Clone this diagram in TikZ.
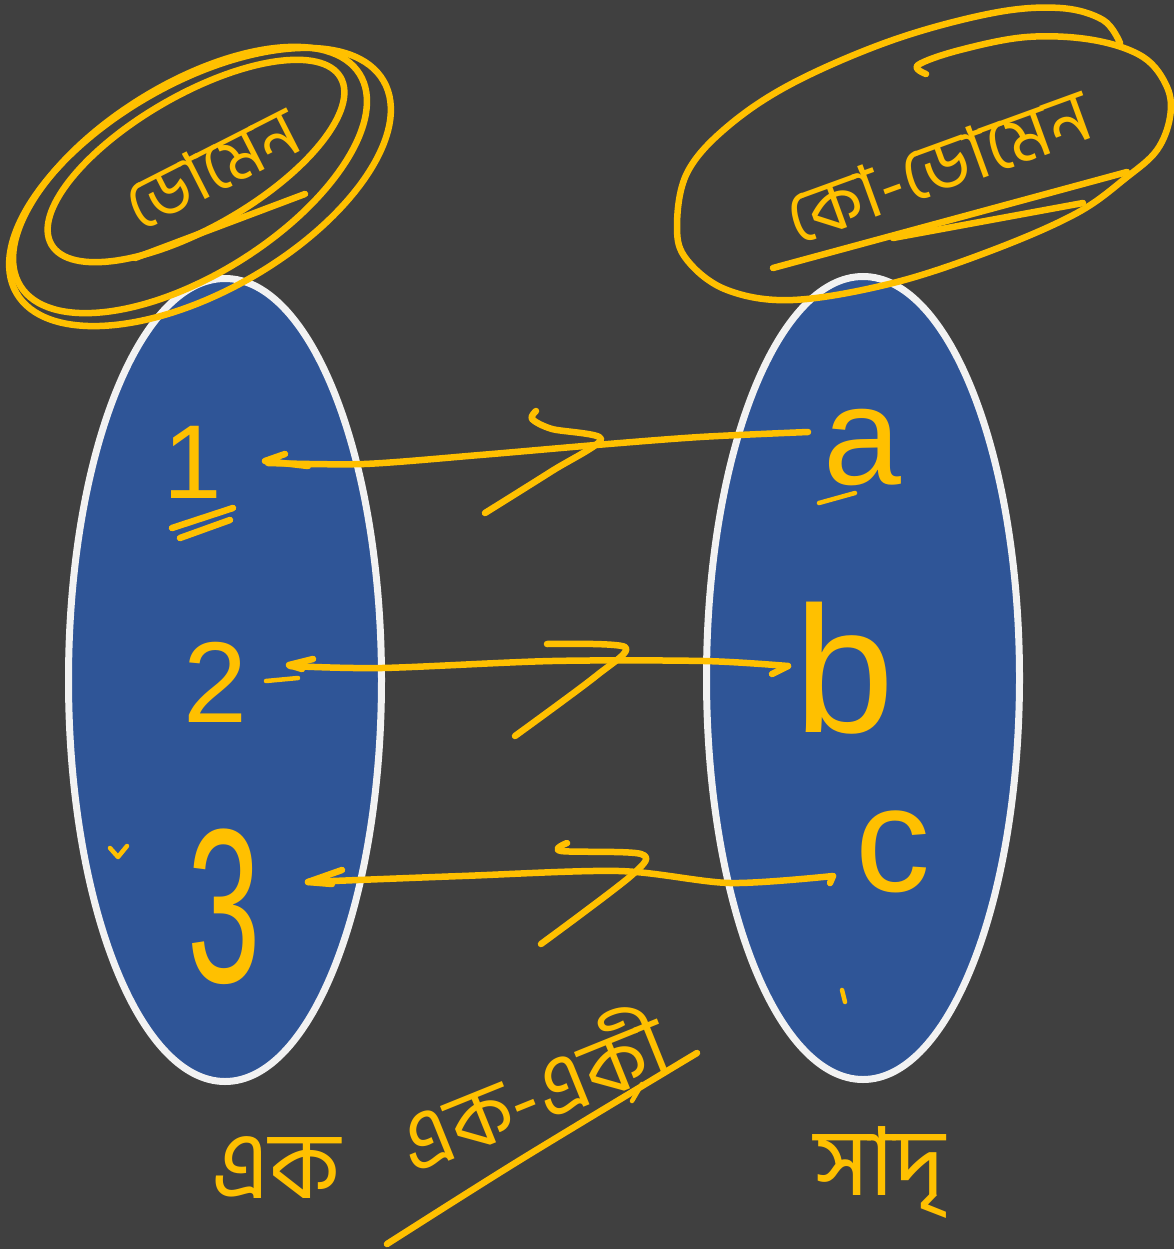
\documentclass[tikz,border=0pt]{standalone}
\usepackage{fontspec}
\setmainfont{Liberation Sans}
\newfontfamily\bn[Script=Bengali]{Hind Siliguri}
\usetikzlibrary{shapes.geometric}
\definecolor{board}{HTML}{404040}
\definecolor{setblue}{HTML}{2F5597}
\definecolor{rim}{HTML}{F2F2F2}
\definecolor{chalk}{HTML}{FFC000}
\tikzset{
  setoval/.style={ellipse, draw=rim, line width=7pt, fill=setblue,
    minimum width=313pt, minimum height=803pt, inner sep=0pt},
  ink/.style={draw=chalk, line width=6.5pt, line cap=round, line join=round},
  thinink/.style={ink, line width=4.5pt},
  word/.style={text=chalk, inner sep=0pt, outer sep=0pt},
}
\newcommand{\fs}[1]{\fontsize{#1}{#1}\selectfont}
\begin{document}
\begin{tikzpicture}[x=1pt, y=-1pt]
  % board
  \fill[board] (0,0) rectangle (1174,1249);
  \useasboundingbox (0,0) rectangle (1174,1249);

  % the two sets
  \node[setoval] (dom) at (225,680) {};
  \node[setoval] (cod) at (863,678) {};

  % ---- domain label, circled several times ----
  \draw[ink] (196,161) ellipse [x radius=167, y radius=66, rotate=30];
  \draw[ink] (190,180) ellipse [x radius=200, y radius=95, rotate=32];
  \draw[ink] (200,187) ellipse [x radius=212, y radius=104, rotate=30];
  \draw[ink] (135,258) -- (305,194);
  \node[word, rotate=27] (domword) at (212,168) {\bn\fs{70}ডোমেন};

  % ---- co-domain label, looped once around ----
  \draw[ink] plot[smooth, tension=0.6] coordinates {
    (926,74) (918,65) (960,50) (1027,37) (1093,40) (1143,57) (1167,87)
    (1170,117) (1157,150) (1127,177) (1077,213) (993,250) (893,283)
    (793,300) (727,290) (687,260) (677,227) (687,173) (727,127) (793,83)
    (893,40) (993,13) (1060,8) (1103,20) (1120,43)};
  \draw[ink] (773,268) -- (1127,172);
  \draw[ink] (893,238) -- (1083,203);
  \node[word, rotate=20] (codword) at (938,166) {\bn\fs{74}কো-ডোমেন};

  % ---- elements ----
  \node[word] (n1) at (193,462) {\fs{105}1};
  \node[word] (n2) at (215,682) {\fs{115}2};
  \node[word, xscale=0.6] (n3) at (224,907) {\fs{220}3};
  \node[word] (ea) at (862,448) {\fs{140}a};
  \node[word] (eb) at (845,668) {\fs{180}b};
  \node[word] (ec) at (893,852) {\fs{150}c};

  % small marks
  \draw[ink] (172,528) -- (233,508);
  \draw[ink] (180,538) -- (230,520);
  \draw[thinink] (110,848) -- (118,857) -- (127,846);
  \draw[thinink] (819,503) -- (855,493);
  \draw[thinink] (266,681) -- (298,678);
  \draw[thinink] (842,990) -- (845,1002);

  % ---- mapping strokes ----
  % 1 -> a
  \draw[ink] plot[smooth] coordinates {(268,463) (364,464) (480,455) (596,445) (700,437) (808,432)};
  \draw[ink] (285,454) -- (265,461) -- (308,466);
  \draw[ink] plot[smooth] coordinates {(536,411) (532,419) (552,429) (601,439) (552,471) (485,513)};
  % 2 -> b
  \draw[ink] plot[smooth] coordinates {(290,666) (382,668) (552,661) (704,661) (788,666)};
  \draw[ink] (788,666) -- (772,674);
  \draw[ink] (313,659) -- (289,665) -- (302,669);
  \draw[ink] plot[smooth] coordinates {(547,644) (625,647) (596,676) (515,736)};
  % 3 -> c
  \draw[ink] plot[smooth] coordinates {(308,882) (462,876) (619,871) (730,883) (833,876)};
  \draw[ink] (833,876) -- (830,883);
  \draw[ink] (342,870) -- (308,882) -- (332,884);
  \draw[ink] plot[smooth] coordinates {(567,843) (561,851) (641,854) (632,875) (541,944)};

  % ---- captions under the sets ----
  \node[word] (capl) at (276,1168) {\bn\fs{95}এক};
  \node[word, rotate=22] (capm) at (530,1086) {\bn\fs{85}এক-একী};
  \draw[ink] plot[smooth] coordinates {(387,1244) (520,1160) (697,1053)};
  \draw[thinink] (632,1101) -- (642,1084);
  \node[word] (capr) at (880,1172) {\bn\fs{95}সাদৃ};
\end{tikzpicture}
\end{document}
